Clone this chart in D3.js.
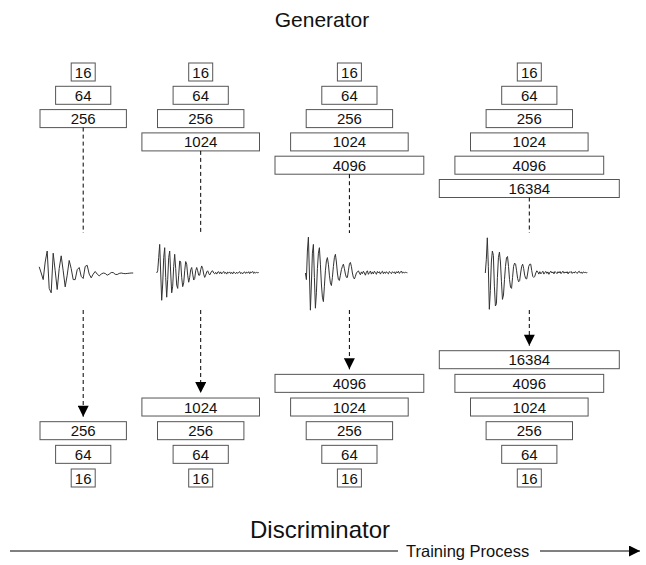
<!DOCTYPE html>
<html>
<head>
<meta charset="utf-8">
<script src="https://d3js.org/d3.v7.min.js"></script>
<style>
  body { margin: 0; background: #fff; }
  text { font-family: "Liberation Sans", Arial, Helvetica, sans-serif; fill: #111; }
</style>
</head>
<body>
<script>
// layer sizes of the generator / discriminator stacks
var levels = ["16", "64", "256", "1024", "4096", "16384"];
// number of layers used in each training stage
var stageDepth = [3, 4, 5, 6];
var titles = ["Generator", "Discriminator"];
var processLabel = "Training Process";

// generated waveforms, one per stage (amplitude, evenly sampled)
var wave1 = [0.28, 0.0, -0.3, 0.5, 1.0, -0.7, -0.9, 0.9, 0.1, -0.75, 0.2, 0.78, 0.1, -0.63, -0.1, 0.57,
  0.2, -0.3, -0.3, 0.15, 0.25, -0.15, -0.25, 0.3, 0.35, -0.05, -0.22, -0.05, 0.07, -0.05, -0.13, -0.05,
  0.0, -0.02, -0.1, -0.05, 0.02, 0.02, -0.06, -0.07, -0.02, 0.0, -0.02, -0.03, -0.02, -0.01, 0.0, 0.0];

var wave2 = [0.0, 0.1, 0.7, 1.3, 0.0, -1.24, -0.5, 0.7, 1.15, -0.2, -1.1, -0.3, 0.7, 1.0, 0.0, -0.9,
  -0.6, 0.3, 0.85, 0.2, -0.55, -0.7, -0.1, 0.55, 0.5, -0.2, -0.62, -0.45, 0.1, 0.52, 0.4, -0.1,
  -0.42, -0.2, 0.15, 0.25, -0.05, -0.32, -0.25, 0.1, 0.25, 0.1, -0.1, -0.1, 0.15, 0.32, 0.2, -0.05,
  -0.2, -0.1, 0.05, 0.1, -0.02, -0.09, 0.0, 0.08, 0.1, 0.0, -0.04, 0.03, -0.05, 0.04, 0.06, -0.03,
  0.05, -0.04, 0.02, 0.07, -0.02, 0.03, -0.05, 0.04, 0.0, 0.05, -0.03, 0.03, -0.04, 0.05, 0.01, -0.03,
  0.04, -0.02, 0.03, 0.06, -0.03, 0.02, -0.04, 0.03, 0.05, -0.02, 0.04, 0.0, 0.06, -0.03, 0.05, 0.02,
  0.07, -0.02, 0.04, 0.0, 0.03, 0.01, 0.02];

var wave3 = [0.0, -0.3, 1.0, 1.63, 0.0, -1.69, -0.5, 0.9, 1.3, -0.2, -1.6, -0.9, 0.2, 0.9, 1.15, 0.4,
  -0.5, -1.1, -1.3, -0.6, 0.1, 0.55, 0.7, 0.4, -0.1, -0.45, -0.57, -0.2, 0.3, 0.7, 0.85, 0.5,
  0.0, -0.3, -0.34, -0.1, 0.15, 0.3, 0.4, 0.2, -0.05, -0.2, -0.2, 0.1, 0.4, 0.48, 0.3, 0.0,
  -0.2, -0.27, -0.15, 0.0, 0.05, 0.1, 0.0, -0.08, 0.05, -0.03, 0.08, 0.0, -0.1, 0.04, 0.1, -0.06,
  0.02, 0.09, -0.05, 0.05, -0.04, 0.08, 0.02, -0.06, 0.07, 0.0, 0.06, -0.05, 0.04, 0.08, -0.03, 0.05,
  -0.02, 0.06, 0.0, -0.04, 0.07, 0.02, -0.03, 0.06, 0.01, 0.05, -0.04, 0.06, 0.0, 0.08, -0.02, 0.04,
  0.09, -0.01, 0.05, 0.0, 0.03, 0.02, 0.01];

var wave4 = [0.0, 0.6, 1.6, 0.3, -1.65, -0.8, 0.5, 1.0, 0.8, -0.6, -1.5, -1.4, -0.2, 0.7, 0.95, 0.5,
  -0.4, -1.2, -1.0, -0.3, 0.3, 0.7, 0.75, 0.3, -0.3, -0.65, -0.7, -0.2, 0.3, 0.45, 0.4, 0.1,
  -0.25, -0.4, -0.35, 0.0, 0.3, 0.4, 0.2, -0.1, -0.25, -0.27, 0.0, 0.3, 0.4, 0.4, 0.1, -0.15,
  -0.2, -0.15, 0.0, 0.1, 0.05, -0.05, 0.06, -0.04, 0.02, 0.08, -0.05, 0.03, 0.07, -0.02, 0.05, -0.06,
  0.04, 0.08, 0.0, 0.05, -0.04, 0.07, 0.02, -0.03, 0.06, 0.0, 0.07, -0.03, 0.04, 0.08, -0.01, 0.05,
  0.0, 0.06, -0.04, 0.05, 0.02, 0.07, -0.02, 0.04, 0.0, 0.06, 0.03, -0.02, 0.05, 0.08, 0.0, 0.04,
  -0.02, 0.05, 0.02, 0.03, 0.01, 0.02];

var waves = [wave1, wave2, wave3, wave4];

var width = 646, height = 565;
var boxH = 18, gap = 15.5, left = 40;
var waveY = 273;

var svg = d3.select("body").append("svg")
  .attr("width", width)
  .attr("height", height);

svg.append("defs").append("marker")
  .attr("id", "tri")
  .attr("viewBox", "0 0 10 10")
  .attr("refX", 10).attr("refY", 5)
  .attr("markerUnits", "userSpaceOnUse")
  .attr("markerWidth", 15).attr("markerHeight", 11)
  .attr("orient", "auto")
  .append("path").attr("d", "M0,0L10,5L0,10Z").attr("fill", "#000");

var boxWidth = d3.scaleLinear().domain([0, levels.length - 1]).range([24, 180]);
var topRow = d3.scaleLinear().domain([0, levels.length - 1]).range([63, 179.5]);
var botRow = d3.scaleLinear().domain([0, levels.length - 1]).range([469, 350.7]);
var amp = d3.scaleLinear().domain([-1, 1]).range([waveY + 22, waveY - 22]);

// column centres: each column is as wide as its widest layer
var centers = [];
stageDepth.reduce(function(x, n) {
  var w = boxWidth(n - 1);
  centers.push(x + w / 2);
  return x + w + gap;
}, left);

function drawBox(g, i, y, cx) {
  var w = boxWidth(i);
  g.append("rect")
    .attr("x", cx - w / 2).attr("y", y)
    .attr("width", w).attr("height", boxH)
    .attr("fill", "#fff")
    .attr("stroke", "#555")
    .attr("stroke-width", 1);
  g.append("text")
    .attr("x", cx).attr("y", y + 14.5)
    .attr("text-anchor", "middle")
    .style("font-size", "15px")
    .text(levels[i]);
}

stageDepth.forEach(function(n, s) {
  var cx = centers[s];
  var g = svg.append("g").attr("class", "stage");

  d3.range(n).forEach(function(i) { drawBox(g, i, topRow(i), cx); });

  // generator -> waveform
  g.append("line")
    .attr("x1", cx).attr("x2", cx)
    .attr("y1", topRow(n - 1) + boxH).attr("y2", 233)
    .attr("stroke", "#000").attr("stroke-width", 1)
    .attr("stroke-dasharray", "4,3");

  var data = waves[s];
  var ww = s === 0 ? 94 : 102;
  var x = d3.scaleLinear().domain([0, data.length - 1]).range([cx - 44, cx - 44 + ww]);
  g.append("path")
    .datum(data)
    .attr("fill", "none")
    .attr("stroke", "#333")
    .attr("stroke-width", 1)
    .attr("stroke-linejoin", "round")
    .attr("d", d3.line().x(function(d, i) { return x(i); }).y(function(d) { return amp(d); }));

  // waveform -> discriminator
  g.append("line")
    .attr("x1", cx).attr("x2", cx)
    .attr("y1", 310).attr("y2", botRow(n - 1) - 5)
    .attr("stroke", "#000").attr("stroke-width", 1)
    .attr("stroke-dasharray", "4,3")
    .attr("marker-end", "url(#tri)");

  d3.range(n).forEach(function(i) { drawBox(g, i, botRow(i), cx); });
});

svg.append("text")
  .attr("x", 322).attr("y", 27)
  .attr("text-anchor", "middle")
  .style("font-size", "21px")
  .text(titles[0]);

svg.append("text")
  .attr("x", 320).attr("y", 538)
  .attr("text-anchor", "middle")
  .style("font-size", "24px")
  .text(titles[1]);

// training process arrow
var ay = 551;
svg.append("line")
  .attr("x1", 10).attr("x2", 398).attr("y1", ay).attr("y2", ay)
  .attr("stroke", "#000").attr("stroke-width", 1);
svg.append("text")
  .attr("x", 406).attr("y", ay + 6)
  .style("font-size", "16.5px")
  .text(processLabel);
svg.append("line")
  .attr("x1", 540).attr("x2", 640).attr("y1", ay).attr("y2", ay)
  .attr("stroke", "#000").attr("stroke-width", 1)
  .attr("marker-end", "url(#tri)");
</script>
</body>
</html>
